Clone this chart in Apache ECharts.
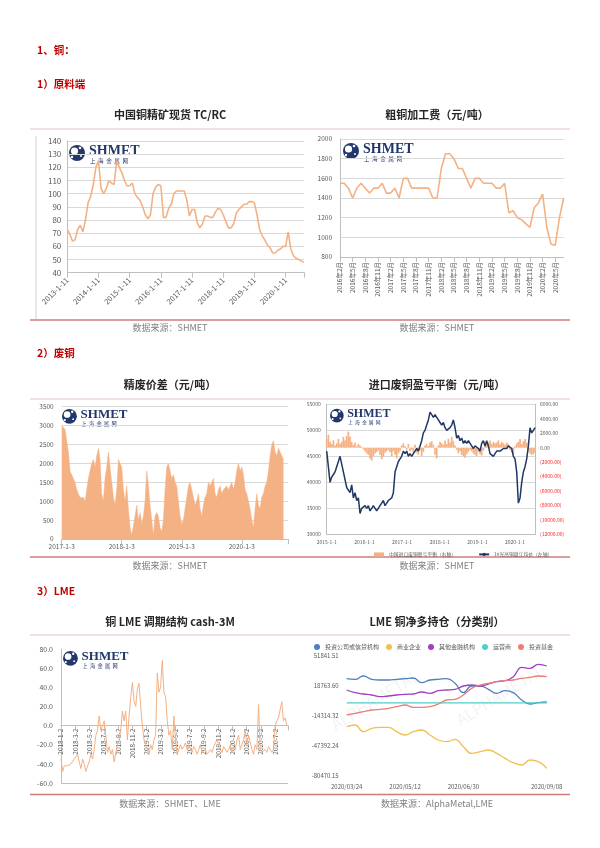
<!DOCTYPE html>
<html><head><meta charset="utf-8">
<script src="https://cdn.jsdelivr.net/npm/echarts@6/dist/echarts.min.js"></script>
<style>html,body{margin:0;padding:0;background:#fff}#c{width:600px;height:848px}</style>
</head><body><div id="c"></div>
<script>
const FONT = '"Noto Sans CJK SC", "Noto Sans", sans-serif';

// ---- Chart 1: 中国铜精矿现货 TC/RC (monthly from 2013-01) ----
const tcStartYear = 2013;
const tcPerYear = 12;
const tcValues = [73,69,64,65,73,76,71,80,93,98,107,120,
  125,104,100,104,110,108,107,125,120,116,110,106,
  106,108,100,97,95,90,84,81,84,100,105,107,
  106,82,82,89,92,100,102,102,102,102,95,83,
  88,88,78,74,77,83,83,82,82,86,89,88,
  84,79,74,74,77,85,88,90,92,92,94,94,
  93,84,73,68,65,61,59,55,55,57,58,60,
  60,71,58,53,51,50,49,48];

// ---- Chart 2: 粗铜加工费 ----
const blisterMonths = ['2016年2月','2016年3月','2016年4月','2016年5月','2016年6月','2016年7月','2016年8月','2016年9月','2016年10月','2016年11月','2016年12月',
  '2017年1月','2017年2月','2017年3月','2017年4月','2017年5月','2017年6月','2017年7月','2017年8月','2017年9月','2017年10月','2017年11月','2017年12月',
  '2018年1月','2018年2月','2018年3月','2018年4月','2018年5月','2018年6月','2018年7月','2018年8月','2018年9月','2018年10月','2018年11月','2018年12月',
  '2019年1月','2019年2月','2019年3月','2019年4月','2019年5月','2019年6月','2019年7月','2019年8月','2019年9月','2019年10月','2019年11月','2019年12月',
  '2020年1月','2020年2月','2020年3月','2020年4月','2020年5月','2020年6月','2020年7月'];
const blisterValues = [1550,1550,1500,1400,1500,1550,1500,1450,1500,1500,1550,
  1450,1450,1500,1400,1600,1600,1500,1500,1500,1500,1500,1400,
  1400,1700,1850,1850,1800,1700,1700,1600,1500,1600,1600,1550,
  1550,1550,1500,1500,1550,1250,1270,1200,1180,1140,1100,1300,
  1350,1440,1100,930,920,1200,1400];

// ---- Chart 3: 精废价差 (every ~10 days from 2017-01-03) ----
const spreadStartYear = 2017;
const spreadPerYear = 36;
const spreadValues = [3000,3050,2900,2600,2300,1800,1700,1600,1500,1300,
  1200,1100,1150,1100,1000,1300,1600,1800,2000,2100,
  1900,2200,2400,2100,1200,1000,1600,1900,2300,1900,
  1500,1100,900,1300,2100,2150,1900,1300,1000,1400,
  800,300,100,50,600,900,500,700,400,600,
  1000,1800,1400,900,500,100,600,700,600,300,
  200,500,1300,1900,2000,1800,1600,1700,1500,1400,
  1000,600,400,500,800,1100,1400,1500,1550,1100,
  900,1000,1200,800,600,900,1100,1200,1500,1400,
  1400,1600,1200,1100,1300,1400,1200,1300,1300,1400,
  1300,1400,1500,1300,1500,1800,2000,1800,1900,1700,
  1300,1200,1000,800,500,300,800,1200,900,800,
  1100,1200,1400,1500,1800,2200,2500,2600,2300,2200,
  2400,2300,2200,2100];

// ---- Chart 4: 进口废铜盈亏平衡 (from 2015-01-01) ----
const scrapStartYear = 2015;
const scrapPerYear = 22.6;
const scrapPrice = [46000,43000,40000,41000,41500,42000,43000,44000,45000,43500,
  42000,40500,39000,38500,38000,39500,37000,38000,36500,37000,
  34000,35000,35000,35500,35000,35500,34500,35000,35500,35000,
  34500,34500,35500,36000,36500,35500,36000,36500,36800,37000,
  38000,42000,43000,44000,44500,45000,46000,45500,46000,45000,
  45500,45000,45500,46000,46500,46000,47000,48000,49500,50000,
  51000,52000,53500,53000,52500,53000,52500,52000,51500,51000,
  51500,50500,50000,50000,50500,51000,52000,50500,48500,49000,
  48000,48500,47500,48000,47500,48000,47500,47000,46500,47000,
  47000,46500,46000,47500,48000,47000,48000,47000,45500,45500,
  45000,45500,46000,46000,46000,46000,46500,46500,46500,47000,
  47000,46500,45000,44500,42000,36000,37000,40000,42000,43000,
  44500,47000,50500,49500,50000,50500];
const scrapBalance = [1200,1800,800,500,1000,300,600,1200,500,800,
  1500,1000,1600,2200,1500,800,400,700,200,500,
  300,100,-200,-500,-800,-1000,-1500,-1800,-1200,-800,
  -600,-400,-1000,-1600,-1300,-700,-500,-300,-600,-1200,
  -500,-1000,-1500,-800,-500,300,600,200,-300,500,
  -500,-300,-800,400,-700,-1000,-400,-1200,-600,300,
  500,200,700,900,400,-1000,-1500,300,800,600,
  400,1000,500,1200,700,1500,900,300,-300,-800,
  -500,-1000,-1200,-1400,-900,-600,-300,-500,-800,-1000,
  -1200,-600,-900,-1100,-400,500,800,700,1000,500,
  800,600,700,1000,500,800,600,400,700,500,
  -300,-600,-900,200,600,800,1200,500,900,1200,
  700,-500,-800,-1000,-900,-700];
const scrapLegend = ['中国进口废铜盈亏平衡（右轴）', '1#光亮铜盘江均价（左轴）'];

// ---- Chart 5: 铜 LME 调期结构 cash-3M (weekly from 2018-01-02) ----
const lmeSpreadPerMonth = 4.3;
const lmeSpread = [-35,-48,-42,-40,-42,-42,-40,-41,-35,-33,
  -30,-38,-45,-35,-40,-48,-42,-38,-30,-35,
  -25,-10,-5,10,-5,0,5,-10,-28,-22,
  -30,-25,-38,-40,-20,-15,-5,15,5,15,
  -15,10,30,45,25,20,38,44,20,0,
  -15,-20,-20,-30,-20,-25,-15,-10,55,35,
  40,68,35,30,5,-10,-5,-25,10,-15,
  -30,-28,-20,-25,-22,-18,-25,-20,-25,-28,
  -22,-25,-30,-25,-20,-28,-30,-25,-30,-32,
  -25,-28,-22,-18,-15,-20,-25,-28,-22,-20,
  -28,-25,-20,-28,-22,-25,-15,-10,-25,-20,
  -15,-5,-20,-10,-8,-25,-30,-20,-25,22,
  -25,-28,-30,-25,-28,-22,-20,-28,-25,0,
  5,8,10,25,5,8,0];

// ---- Chart 6: LME 铜净多持仓（分类别） weekly ----
const posDates = ['2020/03/24','2020/03/31','2020/04/07','2020/04/14','2020/04/21','2020/04/28','2020/05/05','2020/05/12','2020/05/19','2020/05/26','2020/06/02','2020/06/09','2020/06/16','2020/06/23','2020/06/30','2020/07/07','2020/07/14','2020/07/21','2020/07/28','2020/08/04','2020/08/11','2020/08/18','2020/08/25','2020/09/01','2020/09/08'];
const posNames = ['投资公司或信贷机构','商业企业','其他金融机构','运营商','投资基金'];
const posInvestFirms = [26783,26046,29731,26046,25309,25309,26046,26783,27520,22361,25309,26046,26783,21624,11307,18677,18677,14992,10570,13518,11307,3200,-1223,250,987];
const posCommercial = [-26280,-24438,-31808,-28123,-27018,-27018,-31808,-35493,-31808,-29966,-35493,-41021,-42863,-40284,-48390,-55760,-53918,-52075,-55760,-61286,-66077,-68657,-63129,-64972,-72342];
const posOtherFin = [14255,11307,9833,8728,6885,7622,8728,9465,9833,12044,10570,13518,14255,14992,18677,19781,18677,20888,23468,24573,28995,39312,38207,42629,40787];
const posOperators = [0,0,0,0,0,0,0,0,0,0,0,0,0,0,0,0,0,0,0,0,0,0,0,0,0];
const posFunds = [-13383,-11541,-9698,-7856,-7119,-6013,-4171,-2328,-4908,-4908,-4171,-1223,3200,3937,8728,16097,19781,21624,23468,24573,25309,27152,28258,29731,28995];
const posTickLabels = ['-80470.15','-47392.24','-14314.32','18763.60','51841.51'];
const posColors = ['#4f7fc0','#f0c050','#a040c0','#4fd0c8','#e88078'];

// ---------------- drawing ----------------
const chart = echarts.init(document.getElementById('c'));
const LG = '#595959', GG = '#d9d9d9', AX = '#bfbfbf', ORANGE = '#F4B183';

function pairs(start, per, vals) { return vals.map((v, i) => [start + i / per, v]); }
function isInt(v) { return Math.abs(v - Math.round(v)) < 1e-6; }
function intLabel(suffix) { return v => isInt(v) ? Math.round(v) + suffix : ''; }
const plain = v => String(v);

function txt(text, x, y, font, fill, align) {
  return {type:'text', x, y, silent:true, style:{text, font, fill, align:align||'left', verticalAlign:'middle', textAlign:align||'left', textVerticalAlign:'middle'}};
}
function hline(x1, x2, y, color, w) {
  return {type:'line', silent:true, shape:{x1, y1:y, x2, y2:y}, style:{stroke:color, lineWidth:w}};
}
function logo(x, y, size) {
  const s = size / 14, navy = '#22376b';
  return {type:'group', x, y, silent:true, children:[
    {type:'circle', shape:{cx:8*s, cy:9*s, r:8*s}, style:{fill:navy}},
    {type:'circle', shape:{cx:5.5*s, cy:7*s, r:3.6*s}, style:{fill:'#fff'}},
    {type:'circle', shape:{cx:11*s, cy:4*s, r:1.3*s}, style:{fill:'#fff'}},
    {type:'circle', shape:{cx:3*s, cy:13*s, r:1.2*s}, style:{fill:'#fff'}},
    {type:'circle', shape:{cx:12*s, cy:12*s, r:1.0*s}, style:{fill:'#fff'}},
    {type:'text', x:20*s, y:0, style:{text:'SHMET', font:'bold ' + size + 'px "Liberation Serif", serif', fill:navy, align:'left', verticalAlign:'top', textAlign:'left', textVerticalAlign:'top'}},
    {type:'text', x:21*s, y:size*1.2, style:{text:'上  海  金  属  网', font:(size*0.4).toFixed(1) + 'px "Noto Sans CJK SC"', fill:navy, align:'left', verticalAlign:'middle', textAlign:'left', textVerticalAlign:'middle'}}
  ]};
}

const H = 'bold 10.5px ' + FONT, T = 'bold 11px ' + FONT, S = '9px ' + FONT;
const RED = '#c00000';
const graphics = [
  txt('1、铜：', 37, 50, H, RED),
  txt('1）原料端', 37, 84, H, RED),
  txt('2）废铜', 37, 353, H, RED),
  txt('3）LME', 37, 591, H, RED),
  txt('中国铜精矿现货 TC/RC', 170, 115, T, '#262626', 'center'),
  txt('粗铜加工费（元/吨）', 437, 115, T, '#262626', 'center'),
  txt('精废价差（元/吨）', 170, 385, T, '#262626', 'center'),
  txt('进口废铜盈亏平衡（元/吨）', 437, 385, T, '#262626', 'center'),
  txt('铜 LME 调期结构 cash-3M', 170, 622, T, '#262626', 'center'),
  txt('LME 铜净多持仓（分类别）', 437, 622, T, '#262626', 'center'),
  hline(30, 570, 129, '#e8c4c4', 1),
  hline(30, 570, 399, '#e8c4c4', 1),
  hline(30, 570, 635, '#e8c4c4', 1),
  hline(30, 570, 320, '#d27a7a', 1.5),
  hline(30, 570, 557, '#d27a7a', 1.5),
  hline(30, 570, 794.5, '#d27a7a', 1.5),
  {type:'line', silent:true, shape:{x1:36, y1:136, x2:36, y2:319}, style:{stroke:'#d0d0d0', lineWidth:1}},
  txt('数据来源：SHMET', 170, 328, S, '#808080', 'center'),
  txt('数据来源：SHMET', 437, 328, S, '#808080', 'center'),
  txt('数据来源：SHMET', 170, 566, S, '#808080', 'center'),
  txt('数据来源：SHMET', 437, 566, S, '#808080', 'center'),
  txt('数据来源：SHMET、LME', 170, 804, S, '#808080', 'center'),
  txt('数据来源：AlphaMetal,LME', 437, 804, S, '#808080', 'center'),
  logo(69, 144, 14),
  logo(343, 142, 14),
  logo(62, 408, 13),
  logo(330, 408, 12),
  logo(63, 650, 13),
  {type:'text', x:375, y:700, rotation:0.55, silent:true, style:{text:'ALPHAMETAL', font:'16px ' + FONT, fill:'rgba(0,0,0,0.05)', align:'center', verticalAlign:'middle', textAlign:'center', textVerticalAlign:'middle'}},
  {type:'text', x:500, y:695, rotation:0.55, silent:true, style:{text:'ALPHAMETAL', font:'16px ' + FONT, fill:'rgba(0,0,0,0.05)', align:'center', verticalAlign:'middle', textAlign:'center', textVerticalAlign:'middle'}}
];

const lbl = (fs, extra) => Object.assign({color:LG, fontSize:fs, fontFamily:FONT}, extra || {});

// chart 5 axis sits on the zero line: offset it up from the grid bottom
const g5 = {left:61, top:649, width:227, height:134};
const g5ZeroOffset = -(g5.height * 60 / 140);

const option = {
  animation: false,
  backgroundColor: '#fff',
  textStyle: {fontFamily: FONT},
  grid: [
    {left:67.3, top:141, width:237, height:131.7},
    {left:340, top:139, width:223.7, height:118},
    {left:61.7, top:406.7, width:226.3, height:132.3},
    {left:326.7, top:404.3, width:208.3, height:130},
    g5,
    {left:346.7, top:656, width:200, height:119.7}
  ],
  legend: [
    {data:[{name:scrapLegend[0], icon:'rect'}, {name:scrapLegend[1]}], left:369, top:547, itemWidth:10, itemHeight:4, itemGap:22,
     textStyle:{fontSize:4.8, color:LG, fontFamily:FONT}},
    {data:posNames, left:309, top:639, icon:'circle', itemWidth:6, itemHeight:6, itemGap:7,
     textStyle:{fontSize:6, color:LG, fontFamily:FONT}}
  ],
  xAxis: [
    {type:'value', gridIndex:0, min:tcStartYear, max:2020.6, interval:1,
     axisLine:{lineStyle:{color:AX}}, axisTick:{lineStyle:{color:AX}}, splitLine:{show:false},
     axisLabel:lbl(7.5, {rotate:45, formatter:intLabel('-1-11'), margin:6})},
    {type:'category', gridIndex:1, data:blisterMonths, boundaryGap:false,
     axisLine:{lineStyle:{color:AX}}, axisTick:{interval:2, lineStyle:{color:AX}},
     axisLabel:lbl(6.5, {interval:2, rotate:90, margin:5})},
    {type:'value', gridIndex:2, min:spreadStartYear, max:2020.77, interval:1,
     axisLine:{lineStyle:{color:AX}}, axisTick:{show:true, lineStyle:{color:AX}}, splitLine:{show:false},
     axisLabel:lbl(6.5, {formatter:intLabel('-1-3'), margin:4})},
    {type:'value', gridIndex:3, min:scrapStartYear, max:2020.53, interval:1,
     axisLine:{onZero:false, lineStyle:{color:AX}}, axisTick:{show:false}, splitLine:{show:false},
     axisLabel:lbl(5, {formatter:intLabel('-1-1'), margin:5})},
    {type:'value', gridIndex:4, min:0, max:31.8, interval:2, offset:g5ZeroOffset,
     axisLine:{onZero:false, lineStyle:{color:AX}}, axisTick:{show:true, lineStyle:{color:AX}}, splitLine:{show:false},
     axisLabel:lbl(6.5, {rotate:90, margin:3, formatter:v => isInt(v) ? (2018 + Math.floor(Math.round(v)/12)) + '-' + (Math.round(v)%12 + 1) + '-2' : ''})},
    {type:'category', gridIndex:5, data:posDates, boundaryGap:false,
     axisLine:{show:false}, axisTick:{show:false},
     axisLabel:lbl(6, {margin:8, interval:(i) => i === 0 || i === 7 || i === 14 || i === 24})}
  ],
  yAxis: [
    {type:'value', gridIndex:0, min:40, max:140, interval:10,
     axisLine:{show:true, lineStyle:{color:AX}}, axisTick:{show:false},
     splitLine:{lineStyle:{color:GG}}, axisLabel:lbl(8, {margin:6, formatter:plain})},
    {type:'value', gridIndex:1, min:800, max:2000, interval:200,
     axisLine:{show:true, lineStyle:{color:AX}}, axisTick:{show:false},
     splitLine:{lineStyle:{color:GG}}, axisLabel:lbl(6.5, {margin:8, formatter:plain})},
    {type:'value', gridIndex:2, min:0, max:3500, interval:500,
     axisLine:{show:false}, axisTick:{show:false},
     splitLine:{lineStyle:{color:GG}}, axisLabel:lbl(6.5, {margin:8, formatter:plain})},
    {type:'value', gridIndex:3, min:30000, max:55000, interval:5000,
     axisLine:{show:true, lineStyle:{color:AX}}, axisTick:{show:false},
     splitLine:{lineStyle:{color:GG}}, axisLabel:lbl(5, {margin:6, formatter:plain})},
    {type:'value', gridIndex:3, position:'right', min:-12000, max:6000, interval:2000,
     axisLine:{show:true, lineStyle:{color:AX}}, axisTick:{show:false}, splitLine:{show:false},
     axisLabel:lbl(5, {margin:5, formatter:v => v < 0 ? '(' + (-v).toFixed(2) + ')' : v.toFixed(2),
       color:(v) => Number(v) < 0 ? '#ff2020' : LG})},
    {type:'value', gridIndex:4, min:-60, max:80, interval:20,
     axisLine:{show:true, onZero:false, lineStyle:{color:AX}}, axisTick:{show:false}, splitLine:{show:false},
     axisLabel:lbl(7, {margin:8, formatter:v => v.toFixed(1)})},
    {type:'value', gridIndex:5, min:-80470.15, max:51841.51, interval:33077.915,
     axisLine:{show:false}, axisTick:{show:false}, splitLine:{show:false},
     axisLabel:lbl(6, {margin:8, formatter:v => { let best = posTickLabels[0], d = Infinity; posTickLabels.forEach(t => { const dd = Math.abs(parseFloat(t) - v); if (dd < d) { d = dd; best = t; } }); return best; }})}
  ],
  series: [
    {type:'line', xAxisIndex:0, yAxisIndex:0, data:pairs(tcStartYear, tcPerYear, tcValues), showSymbol:false, symbol:'none',
     lineStyle:{color:ORANGE, width:1.6}},
    {type:'line', xAxisIndex:1, yAxisIndex:1, data:blisterValues, showSymbol:false, symbol:'none',
     lineStyle:{color:ORANGE, width:1.6}},
    {type:'line', xAxisIndex:2, yAxisIndex:2, data:pairs(spreadStartYear, spreadPerYear, spreadValues), showSymbol:false, symbol:'none',
     lineStyle:{color:ORANGE, width:0.5}, areaStyle:{color:ORANGE, opacity:1}},
    {type:'bar', name:scrapLegend[0], xAxisIndex:3, yAxisIndex:4, data:pairs(scrapStartYear, scrapPerYear, scrapBalance), barWidth:1.7,
     itemStyle:{color:ORANGE}},
    {type:'line', name:scrapLegend[1], xAxisIndex:3, yAxisIndex:3, data:pairs(scrapStartYear, scrapPerYear, scrapPrice), showSymbol:false, symbol:'none',
     lineStyle:{color:'#1f3864', width:1.5}, itemStyle:{color:'#1f3864'}},
    {type:'line', xAxisIndex:4, yAxisIndex:5, data:pairs(0, lmeSpreadPerMonth, lmeSpread), showSymbol:false, symbol:'none',
     lineStyle:{color:ORANGE, width:1},
     markLine:{silent:true, symbol:'none', label:{show:false}, lineStyle:{color:AX, type:'solid', width:1}, data:[{yAxis:-60}]}},
    ...[posInvestFirms, posCommercial, posOtherFin, posOperators, posFunds].map((d, i) => ({
      type:'line', name:posNames[i], xAxisIndex:5, yAxisIndex:6, data:d, smooth:true, showSymbol:false, symbol:'circle',
      lineStyle:{color:posColors[i], width:1.3}, itemStyle:{color:posColors[i]}
    }))
  ],
  graphic: graphics
};
chart.setOption(option);
</script>
</body></html>
